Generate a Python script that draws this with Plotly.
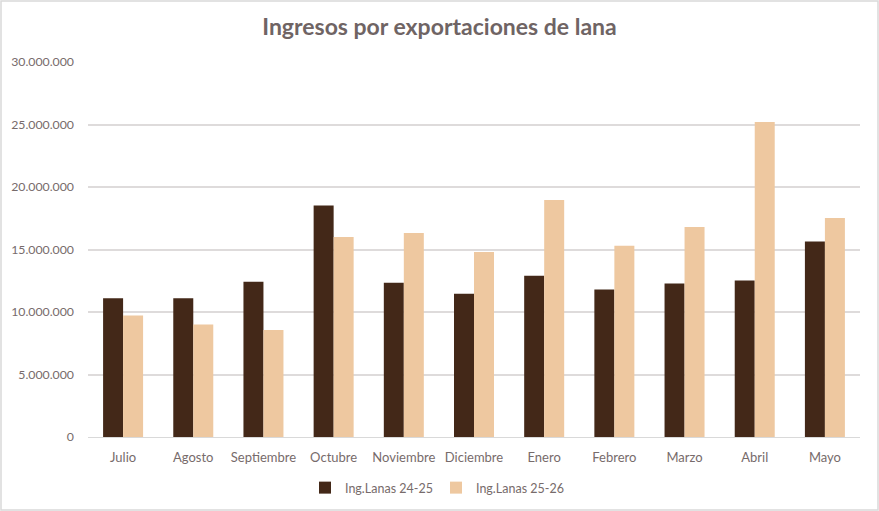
""" plot.py

Ingresos por exportaciones de lana, bar chart
"""
# Imports #
import plotly.graph_objects as go


# Data #
meses = ["Julio", "Agosto", "Septiembre", "Octubre", "Noviembre", "Diciembre",
         "Enero", "Febrero", "Marzo", "Abril", "Mayo"]
ing_24_25 = [11100000, 11100000, 12430000, 18530000, 12350000, 11470000,
             12900000, 11810000, 12290000, 12530000, 15650000]
ing_25_26 = [9730000, 9010000, 8560000, 16000000, 16320000, 14800000,
             18960000, 15310000, 16800000, 25200000, 17520000]
y_ticks = [0, 5000000, 10000000, 15000000, 20000000, 25000000, 30000000]


# Figure #
W, H = 879, 511
L, R, T, B = 88, 19, 62, 74
pw, ph = W - L - R, H - T - B

text_color = "#776b6b"
font_name = "Lato, 'Open Sans', sans-serif"

fig = go.Figure()
fig.add_trace(go.Bar(x=meses, y=ing_24_25, name="Ing.Lanas 24-25",
                     marker=dict(color="#432818", line=dict(width=0))))
fig.add_trace(go.Bar(x=meses, y=ing_25_26, name="Ing.Lanas 25-26",
                     marker=dict(color="#eec8a0", line=dict(width=0))))

fig.update_layout(
    width=W, height=H,
    margin=dict(l=L, r=R, t=T, b=B, autoexpand=False),
    paper_bgcolor="white",
    plot_bgcolor="white",
    separators=",.",
    barmode="group",
    bargap=0.43,
    bargroupgap=0,
    font=dict(family=font_name, size=13, color=text_color),
    title=dict(
        text="<b>Ingresos por exportaciones de lana</b>",
        x=0.5, xref="container", xanchor="center",
        y=1 - 27 / H, yanchor="middle",
        font=dict(size=23, color="#6f6464"),
    ),
    legend=dict(
        orientation="h",
        x=0.496, xref="container", xanchor="center",
        y=1 - 488 / H, yref="container", yanchor="middle",
        font=dict(size=12.5, color=text_color),
        itemwidth=30,
        entrywidth=86,
        entrywidthmode="pixels",
        traceorder="normal",
    ),
    showlegend=True,
)

fig.update_xaxes(
    showgrid=False,
    showline=True,
    linecolor="#d9d9d9",
    linewidth=1,
    ticks="",
    ticklabelstandoff=8,
    tickfont=dict(size=13, color=text_color),
)

fig.update_yaxes(
    range=[0, 30000000],
    tickvals=y_ticks,
    tickformat=",d",
    showgrid=True,
    gridcolor="#dedbdb",
    gridwidth=1.5,
    zeroline=False,
    showline=False,
    ticks="",
    ticklabelstandoff=13,
    tickfont=dict(size=12.3, color=text_color),
)

# outer border round the whole chart
fig.add_shape(
    type="rect", xref="paper", yref="paper",
    x0=-(L - 1) / pw, x1=(W - 1 - L) / pw,
    y0=-(H - 1 - (T + ph)) / ph, y1=(T + ph - 1) / ph,
    line=dict(color="#d9d9d9", width=1.5),
    fillcolor="rgba(0,0,0,0)",
    layer="below",
)

# drop the default page margin so the chart sits at the window's corner
fig.write_html("out.html", config={"displayModeBar": False},
               post_script="document.body.style.margin='0';")
